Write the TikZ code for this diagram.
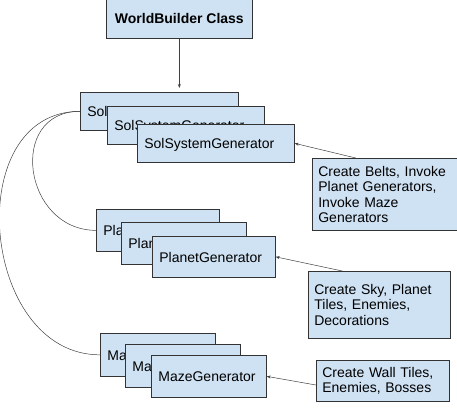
\documentclass[tikz,border=0pt]{standalone}
\usepackage{fontspec}
\setmainfont{Liberation Sans}
\usetikzlibrary{arrows.meta,calc,positioning}
\definecolor{boxblue}{HTML}{CFE2F3}

\begin{document}
\begin{tikzpicture}[x=1pt,y=-1pt,
  font=\fontsize{14}{15.5}\selectfont,
  gen/.style={draw=black!80,fill=boxblue,line width=0.7pt,anchor=north west,inner xsep=7pt,align=left,text height=12pt,text depth=1pt},
  note/.style={draw=black!80,fill=boxblue,line width=0.7pt,anchor=north west,inner xsep=6pt,align=left},
  link/.style={draw=black!75,line width=0.5pt},
  arr/.style={link,-{Stealth[length=4pt,width=3pt]}}]
\useasboundingbox (0,0) rectangle (457,411);

\node[gen,align=center,inner xsep=0pt,minimum width=146pt,minimum height=40pt,font=\fontsize{14}{16}\selectfont\bfseries] (world) at (106,-2) {WorldBuilder Class};

% solar system generators
\node[gen,text width=144pt,minimum height=38pt] (sol1) at (80,92) {SolSystemGenerator};
\node[gen,text width=143pt,minimum height=38pt] (sol2) at (107,106) {SolSystemGenerator};
\node[gen,text width=143pt,minimum height=38pt] (sol3) at (137,124) {SolSystemGenerator};

% planet generators
\node[gen,text width=109pt,minimum height=42pt] (planet1) at (96,209) {PlanetGenerator};
\node[gen,text width=111pt,minimum height=42pt] (planet2) at (121,222) {PlanetGenerator};
\node[gen,text width=109pt,minimum height=41pt] (planet3) at (152,236) {PlanetGenerator};

% maze generators
\node[gen,text width=101pt,minimum height=43pt] (maze1) at (100,333) {MazeGenerator};
\node[gen,text width=101pt,minimum height=43pt] (maze2) at (125,344) {MazeGenerator};
\node[gen,text width=101pt,minimum height=42pt] (maze3) at (151,355) {MazeGenerator};

% notes
\node[note,text width=133pt,minimum height=72pt] (note1) at (312,158) {Create Belts, Invoke\\Planet Generators,\\Invoke Maze\\Generators};
\node[note,text width=130pt,minimum height=67pt] (note2) at (308,271) {Create Sky, Planet\\Tiles, Enemies,\\Decorations};
\node[note,text width=121pt,minimum height=41pt] (note3) at (316,360) {Create Wall Tiles,\\Enemies, Bosses};

\draw[arr,shorten >=4pt] (world.south) -- (world.south |- sol1.north);
\draw[link] (sol1.west) .. controls +(-73,0) and +(-73,0) .. (planet1.west);
\draw[link] (sol1.west) .. controls +(-120,0) and +(-120,0) .. (maze1.west);

\draw[arr] ($(note1.north west)!0.3!(note1.north east)$) -- (sol3.east);
\draw[arr] ($(note2.north west)!0.24!(note2.north east)$) -- (planet3.east);
\draw[arr] ($(note3.north west)!0.6!(note3.south west)$) -- (maze3.east);
\end{tikzpicture}
\end{document}
